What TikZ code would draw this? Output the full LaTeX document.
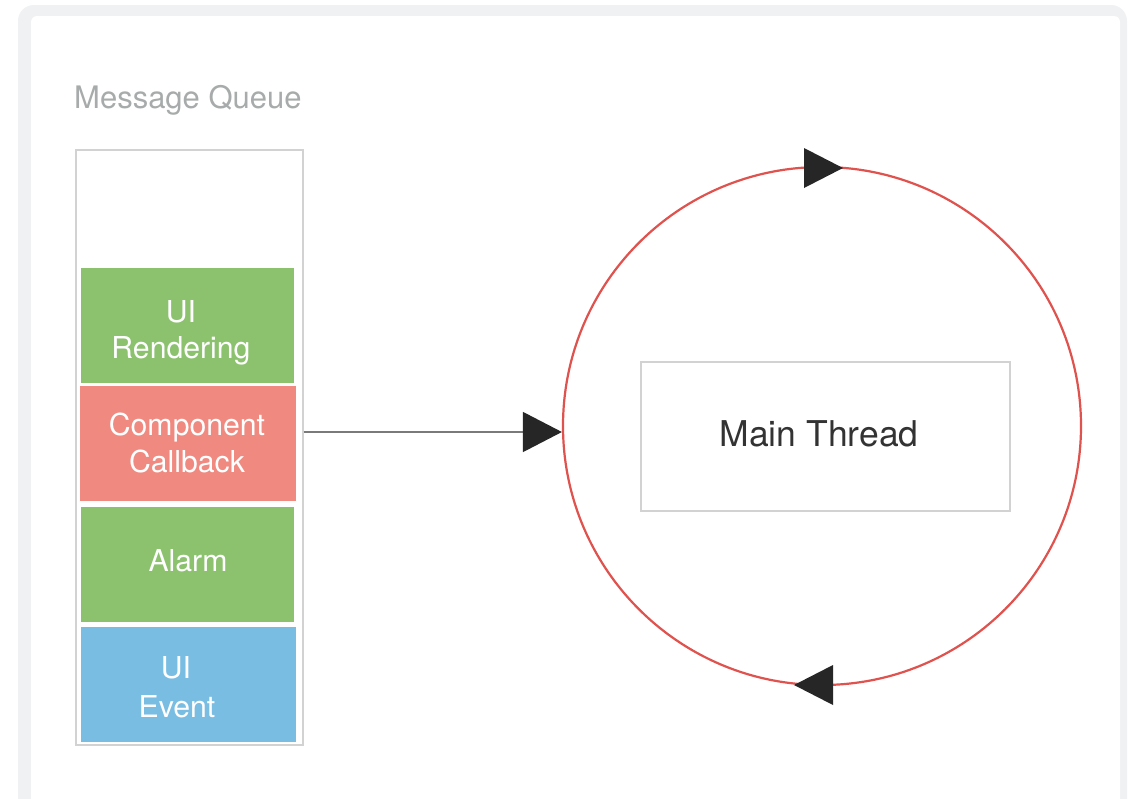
\documentclass[tikz,border=0pt]{standalone}
\usepackage{fontspec}
\setmainfont{TeX Gyre Heros}
\usetikzlibrary{arrows.meta}

\definecolor{framegrey}{HTML}{F0F1F3}
\definecolor{boxline}{HTML}{D2D2D2}
\definecolor{titlegrey}{HTML}{A8ABAB}
\definecolor{qgreen}{HTML}{8CC26E}
\definecolor{qred}{HTML}{F08A80}
\definecolor{qblue}{HTML}{79BDE3}
\definecolor{loopred}{HTML}{E0524E}
\definecolor{tipblack}{HTML}{262626}
\definecolor{wiregrey}{HTML}{7A7A7A}
\definecolor{textdark}{HTML}{333333}

\tikzset{
  msg/.style={draw=white, line width=1pt, inner sep=0pt, anchor=north west},
  msgtext/.style={text=white, font=\fontsize{30.2}{36}\selectfont, anchor=base, inner sep=0pt},
  frame/.style={draw=boxline, line width=1.6pt, inner sep=0pt, anchor=north west},
  loopline/.style={draw=loopred, line width=2.2pt},
  looptip/.style={fill=tipblack},
}

\begin{document}
\begin{tikzpicture}[x=1pt, y=-1pt]
  \clip (0,0) rectangle (1137,798);
  \useasboundingbox (0,0) rectangle (1137,798);
  \fill[white] (0,0) rectangle (1137,798);

  % card frame
  \fill[framegrey, rounded corners=16pt] (18,5) rectangle (1127,820);
  \fill[white, rounded corners=6pt] (31,16) rectangle (1120,810);

  % message queue
  \node[anchor=base west, inner sep=0pt, text=titlegrey,
        font=\fontsize{31}{37}\selectfont] (title) at (74,108) {Message Queue};
  \node[frame, minimum width=227pt, minimum height=595pt] (queue) at (75,149) {};

  \node[msg, fill=qgreen, minimum width=214pt, minimum height=116pt] (render) at (80,267) {};
  \node[msg, fill=qred, minimum width=217pt, minimum height=116pt] (callback) at (79,385) {};
  \node[msg, fill=qgreen, minimum width=214pt, minimum height=116pt] (alarm) at (80,506) {};
  \node[msg, fill=qblue, minimum width=216pt, minimum height=116pt] (event) at (80,626) {};

  \node[msgtext] (t1a) at (181,322) {UI};
  \node[msgtext] (t1b) at (181,358) {Rendering};
  \node[msgtext] (t2a) at (187,435) {Component};
  \node[msgtext] (t2b) at (187,472) {Callback};
  \node[msgtext] (t3) at (188,571) {Alarm};
  \node[msgtext] (t4a) at (176,678) {UI};
  \node[msgtext] (t4b) at (177,717) {Event};

  % main thread loop
  \node[circle, loopline, inner sep=0pt, minimum size=518pt] (loop) at (822,426) {};
  \node[frame, minimum width=369pt, minimum height=149pt] (main) at (640,361) {};
  \node[anchor=base, inner sep=0pt, text=textdark,
        font=\fontsize{35.5}{42}\selectfont] (maintext) at (819,446) {Main Thread};

  % direction markers on the loop
  \fill[looptip] (804,148) -- (843,168) -- (804,188) -- cycle;
  \fill[looptip] (833,665) -- (794,685) -- (833,705) -- cycle;

  % queue feeds the loop
  \coordinate (qout) at (queue.east |- 0,432);
  \coordinate (lin) at (loop.west |- 0,432);
  \draw[wiregrey, line width=1.4pt,
        -{Triangle[length=39pt, width=40pt, color=tipblack]}] (qout) -- (lin);
\end{tikzpicture}
\end{document}
